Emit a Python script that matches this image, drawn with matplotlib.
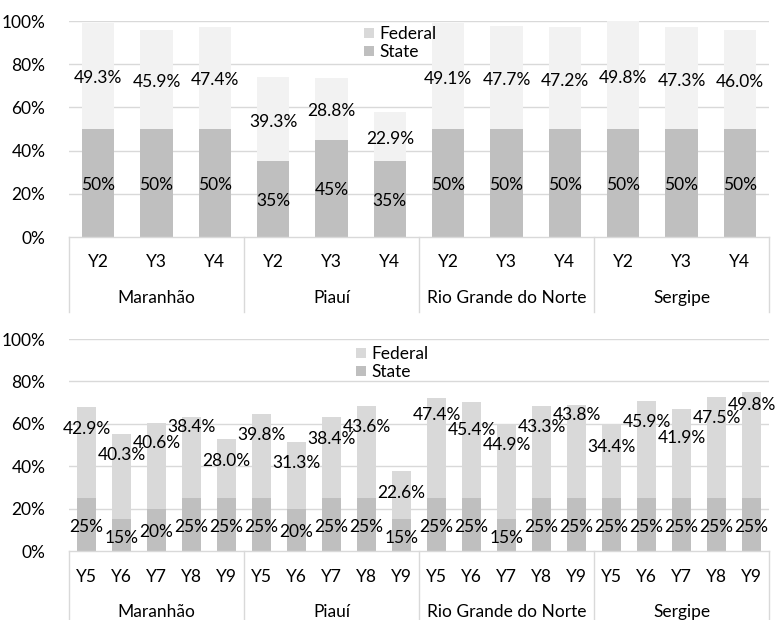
import matplotlib
matplotlib.use("Agg")
import matplotlib.pyplot as plt
from matplotlib.patches import Patch
from matplotlib.lines import Line2D

plt.rcParams["font.family"] = ["Lato", "DejaVu Sans"]

# ---- data -------------------------------------------------------------
states = ["Maranhão", "Piauí", "Rio Grande do Norte", "Sergipe"]

years_top = ["Y2", "Y3", "Y4"]
state_top = [50, 50, 50, 35, 45, 35, 50, 50, 50, 50, 50, 50]
federal_top = [49.3, 45.9, 47.4, 39.3, 28.8, 22.9,
               49.1, 47.7, 47.2, 49.8, 47.3, 46.0]

years_bottom = ["Y5", "Y6", "Y7", "Y8", "Y9"]
state_bottom = [25, 15, 20, 25, 25,
                25, 20, 25, 25, 15,
                25, 25, 15, 25, 25,
                25, 25, 25, 25, 25]
federal_bottom = [42.9, 40.3, 40.6, 38.4, 28.0,
                  39.8, 31.3, 38.4, 43.6, 22.6,
                  47.4, 45.4, 44.9, 43.3, 43.8,
                  34.4, 45.9, 41.9, 47.5, 49.8]

# federal label placement in the lower panel: distance below the bar top
fed_label_drop = [10.4, 10.0, 9.7, 4.9, 10.5,
                  10.1, 9.8, 10.6, 10.1, 10.2,
                  8.2, 13.4, 9.9, 9.8, 4.6,
                  10.4, 10.1, 13.6, 9.8, 5.9]

# ---- style ------------------------------------------------------------
STATE_C = "#bfbfbf"
FED_TOP_C = "#f2f2f2"
FED_BOT_C = "#d9d9d9"
GRID_C = "#d9d9d9"
FS = 12.5

W, H = 775, 620
fig = plt.figure(figsize=(W / 100, H / 100), dpi=100)


def px_axes(x0, x1, y_top, y_bottom):
    return fig.add_axes([x0 / W, 1 - y_bottom / H, (x1 - x0) / W,
                         (y_bottom - y_top) / H])


def panel(ax, years, state, federal, fed_color, label_y_fed, label_y_state,
          sep_depth, tick_y, group_y, legend_xy):
    n = len(state)
    xs = [i + 0.5 for i in range(n)]
    ax.set_xlim(0, n)
    ax.set_ylim(0, 100)
    for g in range(20, 101, 20):
        ax.axhline(g, color=GRID_C, lw=1.0, zorder=0)
    ax.bar(xs, state, width=0.55, color=STATE_C, zorder=2)
    ax.bar(xs, federal, width=0.55, bottom=state, color=fed_color, zorder=2)

    for i, x in enumerate(xs):
        ax.text(x, label_y_state(i), f"{state[i]:.0f}%", ha="center",
                va="center", fontsize=FS, zorder=3)
        ax.text(x, label_y_fed(i), f"{federal[i]:.1f}%", ha="center",
                va="center", fontsize=FS, zorder=3)

    for s in ax.spines.values():
        s.set_visible(False)
    ax.set_xticks([])
    ax.set_yticks(range(0, 101, 20))
    ax.set_yticklabels([f"{v}%" for v in range(0, 101, 20)], fontsize=FS)
    ax.tick_params(axis="y", length=0, pad=17)

    # multi-level category axis
    tr = ax.get_xaxis_transform()
    ax.add_line(Line2D([0, n], [0, 0], transform=tr, color=GRID_C, lw=1.0,
                       clip_on=False))
    k = len(years)
    for g in range(len(states) + 1):
        ax.add_line(Line2D([g * k, g * k], [0, -sep_depth], transform=tr,
                           color=GRID_C, lw=1.0, clip_on=False))
    for i, x in enumerate(xs):
        ax.text(x, tick_y, years[i % k], transform=tr, ha="center",
                va="center", fontsize=FS)
    for g, name in enumerate(states):
        ax.text(g * k + k / 2, group_y, name, transform=tr, ha="center",
                va="center", fontsize=FS)

    handles = [Patch(facecolor=FED_BOT_C, edgecolor="none", label="Federal"),
               Patch(facecolor=STATE_C, edgecolor="none", label="State")]
    ax.legend(handles=handles, loc="upper left", bbox_to_anchor=legend_xy,
              frameon=False, fontsize=FS, handlelength=0.55, handleheight=0.55,
              handletextpad=0.35, labelspacing=0.12, borderpad=0,
              borderaxespad=0)


ax_top = px_axes(69, 769, 21, 237)
panel(ax_top, years_top, state_top, federal_top, FED_TOP_C,
      label_y_fed=lambda i: state_top[i] + federal_top[i] / 2 - 1.2,
      label_y_state=lambda i: state_top[i] / 2 - 0.8,
      sep_depth=75 / 216, tick_y=-25 / 216, group_y=-61 / 216,
      legend_xy=((364 - 69) / 700, 1 - (26 - 21) / 216))

ax_bot = px_axes(69, 769, 339, 551)
panel(ax_bot, years_bottom, state_bottom, federal_bottom, FED_BOT_C,
      label_y_fed=lambda i: state_bottom[i] + federal_bottom[i]
      - fed_label_drop[i],
      label_y_state=lambda i: state_bottom[i] / 2 - 1.2,
      sep_depth=69 / 212, tick_y=-26 / 212, group_y=-61 / 212,
      legend_xy=((356 - 69) / 700, 1 - (346 - 339) / 212))

fig.savefig("out.png", dpi=100)
